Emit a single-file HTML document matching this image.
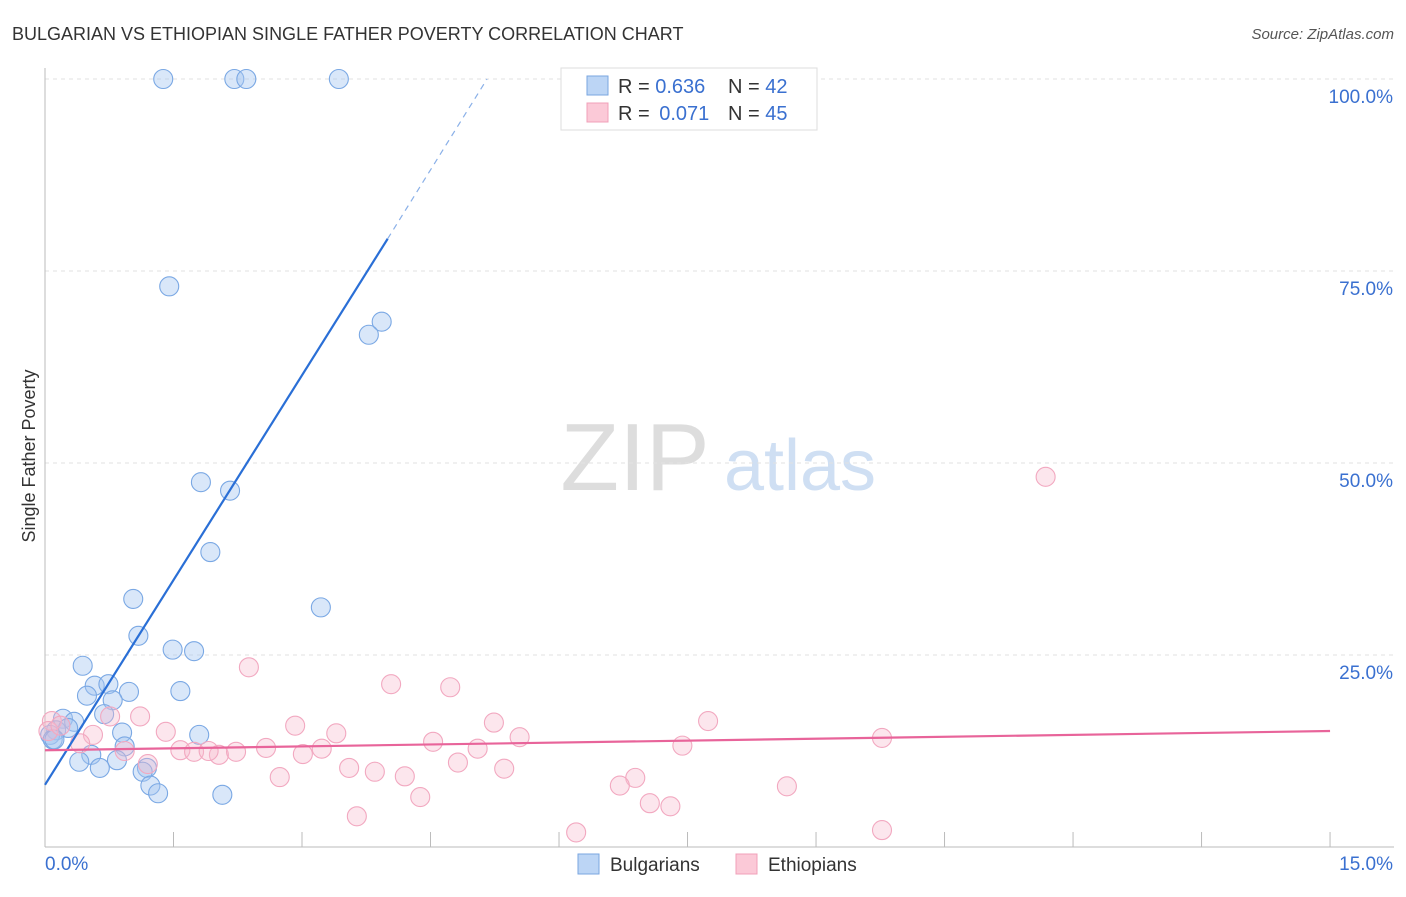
<!DOCTYPE html>
<html><head><meta charset="utf-8"><style>
body{margin:0;background:#fff;font-family:"Liberation Sans",sans-serif;}
svg text{font-family:"Liberation Sans",sans-serif;}
</style></head><body>
<svg id="c" width="1406" height="892" xmlns="http://www.w3.org/2000/svg">
<text x="12" y="40" font-size="18" fill="#333">BULGARIAN VS ETHIOPIAN SINGLE FATHER POVERTY CORRELATION CHART</text>
<text x="1394" y="39" font-size="15" fill="#555" text-anchor="end" font-style="italic">Source: ZipAtlas.com</text>
<text x="35" y="456" font-size="18" fill="#333" text-anchor="middle" transform="rotate(-90 35 456)">Single Father Poverty</text>
<g><text x="635" y="490" font-size="96" fill="#ddd" font-family="Liberation Serif" text-anchor="middle">ZIP</text><text x="800" y="490" font-size="72" fill="#cfdff3" text-anchor="middle">atlas</text></g>
<g id="grid"></g><g id="axes"></g><g id="pts"></g><g id="trend"></g>
<g>
<rect x="561" y="68" width="256" height="62" fill="#fff" stroke="#ddd"/>
<rect x="587" y="76" width="21" height="19" fill="#bcd5f5" stroke="#7aa6e0"/>
<rect x="587" y="103" width="21" height="19" fill="#fbc9d7" stroke="#f0a0b8"/>
<text x="618" y="93" font-size="20" fill="#333">R = <tspan fill="#3a70d0">0.636</tspan><tspan x="728">N = </tspan><tspan fill="#3a70d0">42</tspan></text>
<text x="618" y="120" font-size="20" fill="#333">R = <tspan fill="#3a70d0" dx="4">0.071</tspan><tspan x="728">N = </tspan><tspan fill="#3a70d0">45</tspan></text>
</g>
<g>
<rect x="578" y="854" width="21" height="20" fill="#bcd5f5" stroke="#7aa6e0"/>
<text x="610" y="871" font-size="19" fill="#333">Bulgarians</text>
<rect x="736" y="854" width="21" height="20" fill="#fbc9d7" stroke="#f0a0b8"/>
<text x="768" y="871" font-size="19" fill="#333">Ethiopians</text>
</g>
</svg>
<script>
const yTicks=[0,25,50,75,100];
const yTickLabels=["","25.0%","50.0%","75.0%","100.0%"];
const xTicks=[0,1.5,3,4.5,6,7.5,9,10.5,12,13.5,15];
const bulX=[1.38,2.21,2.35,3.43,1.45,3.93,3.78,1.82,2.16,1.93,1.03,3.22,1.09,1.49,1.74,0.44,0.58,0.74,1.58,0.49,0.98,0.79,0.69,0.21,0.34,0.13,0.27,0.06,0.09,1.80,0.90,0.93,0.54,0.40,0.84,0.64,1.19,1.14,1.23,1.32,2.07,0.11];
const bulY=[100,100,100,100,73,68.4,66.7,47.5,46.4,38.4,32.3,31.2,27.5,25.7,25.5,23.6,21,21.2,20.3,19.7,20.2,19.1,17.3,16.7,16.3,15.2,15.5,14.6,14,14.6,14.9,13.1,12,11.1,11.3,10.3,10.3,9.8,8,7,6.8,14];
const ethX=[11.68,2.38,4.04,4.73,0.76,1.11,2.92,5.24,7.74,1.41,3.40,0.56,5.54,9.77,4.53,7.44,0.08,0.04,0.18,0.41,1.58,1.74,2.03,2.23,2.58,3.01,3.23,1.91,5.05,0.93,1.20,3.55,3.85,4.20,4.82,5.36,2.74,4.38,6.89,6.71,8.66,7.06,7.30,3.64,6.20,9.77];
const ethY=[48.2,23.4,21.2,20.8,17,17,15.8,16.2,16.4,15,14.8,14.6,14.3,14.2,13.7,13.2,16.4,15.1,15.8,13.5,12.6,12.4,12,12.4,12.9,12.1,12.8,12.5,12.8,12.5,10.8,10.3,9.8,9.2,11,10.2,9.1,6.5,9,8,7.9,5.7,5.3,4,1.9,2.2];
const bulTrend=[[0,8.1],[4.0,79.2]];
const bulTrendDash=[[4.0,79.2],[5.16,100]];
const ethTrend=[[0,12.6],[15,15.1]];
const NS="http://www.w3.org/2000/svg";
const X=v=>45+v*85.67, Y=v=>847-v*7.68;
function mk(t,a,p){const e=document.createElementNS(NS,t);for(const k in a)e.setAttribute(k,a[k]);p.appendChild(e);return e;}
const grid=document.getElementById('grid'),axes=document.getElementById('axes'),pts=document.getElementById('pts'),tr=document.getElementById('trend');
yTicks.forEach((t,i)=>{if(t>0){const l=mk('line',{x1:45,x2:1394,y1:Y(t),y2:Y(t),stroke:'#e2e2e2','stroke-dasharray':'4,4'},grid);


const tx=mk('text',{x:1393,y:Y(t)+24,'font-size':19,fill:'#3a70d0','text-anchor':'end'},axes);tx.textContent=yTickLabels[i];

}});
const ax=mk('line',{x1:45,x2:45,y1:68,y2:847,stroke:'#bbb'},axes);


const bx=mk('line',{x1:45,x2:1394,y1:847,y2:847,stroke:'#bbb'},axes);


xTicks.forEach(t=>{const l=mk('line',{x1:X(t),x2:X(t),y1:832,y2:847,stroke:'#bbb'},axes);

});
const xl0=mk('text',{x:45,y:870,'font-size':19,fill:'#3a70d0'},axes);xl0.textContent='0.0%';


const xl1=mk('text',{x:1393,y:870,'font-size':19,fill:'#3a70d0','text-anchor':'end'},axes);xl1.textContent='15.0%';


bulX.forEach((v,i)=>{const c=mk('circle',{cx:X(v),cy:Y(bulY[i]),r:9.5,fill:'rgba(165,198,240,0.42)',stroke:'#7aa8e4','stroke-width':1.1},pts);

});
ethX.forEach((v,i)=>{const c=mk('circle',{cx:X(v),cy:Y(ethY[i]),r:9.5,fill:'rgba(248,185,205,0.36)',stroke:'#f2a8c0','stroke-width':1.1},pts);

});
const b1=mk('line',{x1:X(bulTrend[0][0]),y1:Y(bulTrend[0][1]),x2:X(bulTrend[1][0]),y2:Y(bulTrend[1][1]),stroke:'#2a6fd6','stroke-width':2.2},tr);


const b2=mk('line',{x1:X(bulTrendDash[0][0]),y1:Y(bulTrendDash[0][1]),x2:X(bulTrendDash[1][0]),y2:Y(bulTrendDash[1][1]),stroke:'#8ab0e8','stroke-width':1.2,'stroke-dasharray':'6,5'},tr);


const e1=mk('line',{x1:X(ethTrend[0][0]),y1:Y(ethTrend[0][1]),x2:X(ethTrend[1][0]),y2:Y(ethTrend[1][1]),stroke:'#e8649a','stroke-width':2.2},tr);


</script>
</body></html>
